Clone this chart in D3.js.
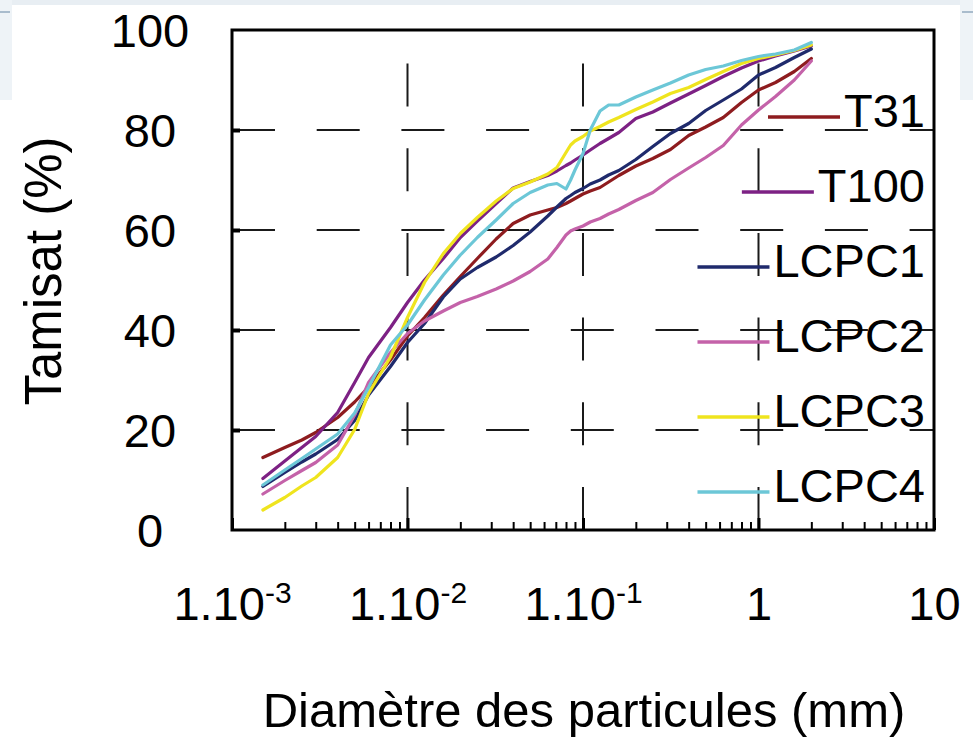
<!DOCTYPE html>
<html><head><meta charset="utf-8">
<script src="https://cdn.jsdelivr.net/npm/d3@7"></script>
<style>
html,body{margin:0;padding:0;background:#fff;}
svg{display:block;}
text{font-family:"Liberation Sans", Arial, Helvetica, sans-serif; fill:#000;}
</style>
</head><body>
<svg id="chart" width="973" height="738"></svg>
<script>
// ---------- DATA ----------
const diametres = [0.0015, 0.002, 0.0025, 0.003, 0.004, 0.005, 0.006, 0.008, 0.01, 0.0125,
  0.016, 0.02, 0.025, 0.032, 0.04, 0.05, 0.063, 0.071, 0.08, 0.085, 0.09, 0.1, 0.11, 0.125,
  0.14, 0.16, 0.2, 0.25, 0.315, 0.4, 0.5, 0.63, 0.8, 1, 1.25, 1.6, 2];

const T31   = [14.5, 16.5, 18.0, 19.5, 22.5, 25.6, 28.6, 34.0, 38.8, 42.5, 47.0, 50.7, 54.3, 58.2, 61.3, 63.0, 64.0, 64.5, 65.3, 65.8, 66.3, 67.2, 67.8, 68.5, 69.6, 70.9, 72.8, 74.3, 76.1, 78.9, 80.6, 82.5, 85.5, 88.0, 89.5, 91.7, 94.3];
const T100  = [10.3, 13.8, 16.5, 18.7, 23.5, 29.5, 34.5, 40.5, 45.5, 50.0, 54.3, 58.5, 61.8, 65.3, 68.4, 69.7, 70.9, 71.8, 72.9, 73.4, 74.0, 75.0, 76.0, 77.3, 78.3, 79.5, 82.3, 83.6, 85.4, 87.2, 88.9, 90.7, 92.4, 93.8, 94.8, 95.8, 96.8];
const LCPC1 = [8.7, 11.5, 13.6, 15.2, 18.1, 21.9, 27.0, 32.7, 37.5, 41.3, 46.6, 50.2, 52.5, 54.6, 56.9, 59.6, 62.8, 64.6, 66.3, 66.9, 67.5, 68.3, 69.2, 70.0, 71.0, 71.9, 74.1, 76.7, 79.3, 81.3, 83.9, 86.0, 88.2, 91.0, 92.5, 94.5, 96.2];
const LCPC2 = [7.2, 9.9, 11.9, 13.5, 17.0, 23.0, 29.5, 35.5, 39.3, 41.8, 43.8, 45.5, 46.7, 48.2, 49.8, 51.7, 54.2, 56.5, 59.0, 59.8, 60.2, 60.8, 61.6, 62.3, 63.2, 64.1, 65.9, 67.5, 70.1, 72.4, 74.5, 76.9, 81.0, 84.0, 86.7, 90.0, 93.8];
const LCPC3 = [4.0, 6.5, 8.8, 10.5, 14.5, 20.1, 27.3, 34.6, 42.5, 49.5, 55.3, 59.3, 62.5, 65.8, 68.3, 69.6, 71.2, 72.5, 75.5, 77.0, 77.8, 78.7, 79.8, 80.7, 81.6, 82.5, 84.1, 85.6, 87.3, 88.5, 90.1, 91.7, 93.3, 94.3, 95.0, 95.9, 97.0];
const LCPC4 = [9.0, 12.0, 14.3, 16.2, 19.2, 23.4, 28.5, 37.0, 41.0, 46.0, 51.0, 55.0, 58.5, 62.0, 65.3, 67.5, 69.0, 69.3, 68.2, 70.0, 72.0, 75.3, 80.0, 83.8, 85.0, 85.0, 86.6, 88.0, 89.4, 91.0, 92.1, 92.8, 93.9, 94.7, 95.2, 96.0, 97.5];

const seriesNames  = ["T31", "T100", "LCPC1", "LCPC2", "LCPC3", "LCPC4"];
const seriesValues = [T31, T100, LCPC1, LCPC2, LCPC3, LCPC4];
const seriesColors = ["#8e1c1f", "#7d2184", "#1f2a6c", "#c462a9", "#efe41e", "#6cc7d7"];

const yTickValues = [0, 20, 40, 60, 80, 100];
const yTickLabels = ["0", "20", "40", "60", "80", "100"];
const xTickValues = [0.001, 0.01, 0.1, 1, 10];
const xTickBases  = ["1.10", "1.10", "1.10", "1", "10"];
const xTickExps   = ["-3", "-2", "-1", "", ""];
const yTitle = "Tamisat (%)";
const xTitle = "Diamètre des particules (mm)";

// ---------- LAYOUT ----------
const svg = d3.select("#chart");
const x = d3.scaleLog().domain([1e-3, 10]).range([232, 934]);
const y = d3.scaleLinear().domain([0, 100]).range([530, 30]);
const FONT = 47;

// page decoration (light frame of the source page)
svg.append("rect").attr("x", 0).attr("y", 0).attr("width", 973).attr("height", 5).attr("fill", "#e8eef3");
svg.append("rect").attr("x", 0).attr("y", 0).attr("width", 12).attr("height", 100).attr("fill", "#eef3f7");
svg.append("rect").attr("x", 960).attr("y", 0).attr("width", 13).attr("height", 100).attr("fill", "#eef3f7");
svg.append("line").attr("x1", 0).attr("x2", 10).attr("y1", 12).attr("y2", 12).attr("stroke", "#a9bccd").attr("stroke-width", 2);
svg.append("line").attr("x1", 962).attr("x2", 973).attr("y1", 12).attr("y2", 12).attr("stroke", "#a9bccd").attr("stroke-width", 2);

// grid (dashed)
const dash = "43,41.7";
const gridG = svg.append("g");
gridG.selectAll("line.h").data(yTickValues.filter(v => v > 0 && v < 100)).join("line")
  .attr("class", "h")
  .attr("x1", x(1e-3)).attr("x2", x(10))
  .attr("y1", d => y(d)).attr("y2", d => y(d))
  .attr("stroke", "#1a1a1a").attr("stroke-width", 2).attr("stroke-dasharray", dash);
gridG.selectAll("line.v").data(xTickValues.filter(v => v > 1e-3 && v < 10)).join("line")
  .attr("class", "v")
  .attr("x1", d => x(d)).attr("x2", d => x(d))
  .attr("y1", y(0)).attr("y2", y(100))
  .attr("stroke", "#1a1a1a").attr("stroke-width", 2).attr("stroke-dasharray", dash);

// minor ticks on the bottom axis (pointing inward)
const minorTicks = x.ticks().filter(v => Math.abs(Math.log10(v) - Math.round(Math.log10(v))) > 1e-9);
const minorAxis = svg.append("g").attr("transform", `translate(0,${y(0)})`)
  .call(d3.axisTop(x).tickValues(minorTicks).tickSize(8).tickFormat(""));
minorAxis.select(".domain").remove();
minorAxis.selectAll("line").attr("stroke", "#000").attr("stroke-width", 2);

const majorAxis = svg.append("g").attr("transform", `translate(0,${y(0)})`)
  .call(d3.axisTop(x).tickValues(xTickValues).tickSize(12).tickFormat(""));
majorAxis.select(".domain").remove();
majorAxis.selectAll("line").attr("stroke", "#000").attr("stroke-width", 3);

// inward ticks on the left axis
const leftTicks = svg.append("g").attr("transform", `translate(${x(1e-3)},0)`)
  .call(d3.axisRight(y).tickValues(yTickValues.filter(v => v > 0 && v < 100)).tickSize(8).tickFormat(""));
leftTicks.select(".domain").remove();
leftTicks.selectAll("line").attr("stroke", "#000").attr("stroke-width", 4);

// data lines
const lineGen = d3.line().x((d, i) => x(diametres[i])).y(d => y(d)).curve(d3.curveLinear);
svg.append("g").selectAll("path").data(seriesValues).join("path")
  .attr("d", d => lineGen(d))
  .attr("fill", "none")
  .attr("stroke", (d, i) => seriesColors[i])
  .attr("stroke-width", 3.2)
  .attr("stroke-linejoin", "round")
  .attr("stroke-linecap", "round");

// frame
svg.append("rect")
  .attr("x", x(1e-3)).attr("y", y(100))
  .attr("width", x(10) - x(1e-3)).attr("height", y(0) - y(100))
  .attr("fill", "none").attr("stroke", "#000").attr("stroke-width", 3);

// y tick labels
const yAxisG = svg.append("g").attr("transform", "translate(150,0)")
  .call(d3.axisLeft(y).tickValues(yTickValues).tickSize(0).tickPadding(0)
    .tickFormat((d, i) => yTickLabels[i]));
yAxisG.select(".domain").remove();
yAxisG.selectAll("text")
  .attr("x", 0).attr("dy", "0.36em")
  .attr("text-anchor", "middle")
  .style("font-size", FONT + "px")
  .style("font-family", "'Liberation Sans', Arial, sans-serif")
  .attr("fill", "#000");

// x tick labels
const xAxisG = svg.append("g")
  .call(d3.axisBottom(x).tickValues(xTickValues).tickSize(0).tickFormat(""));
xAxisG.select(".domain").remove();
xAxisG.selectAll(".tick text").each(function (d, i) {
  const t = d3.select(this);
  t.text(null)
    .attr("y", 620).attr("dy", null)
    .attr("text-anchor", "middle")
    .style("font-size", FONT + "px")
    .style("font-family", "'Liberation Sans', Arial, sans-serif")
    .attr("fill", "#000");
  t.append("tspan").text(xTickBases[i]);
  if (xTickExps[i]) {
    t.append("tspan").text(xTickExps[i]).attr("dy", -17).style("font-size", "30px");
  }
});

// legend
const legend = svg.append("g");
seriesNames.forEach((name, i) => {
  const ly = 117 + i * 75;
  const txt = legend.append("text")
    .attr("x", 925).attr("y", ly + 10)
    .attr("text-anchor", "end")
    .style("font-size", FONT + "px")
    .text(name);
  const w = txt.node().getComputedTextLength();
  const start = 925 - w;
  legend.append("line")
    .attr("x1", start - 76).attr("x2", start - 4)
    .attr("y1", ly).attr("y2", ly)
    .attr("stroke", seriesColors[i]).attr("stroke-width", 3.5);
});

// axis titles
svg.append("text")
  .attr("transform", "translate(43,271) rotate(-90)")
  .attr("text-anchor", "middle").attr("dy", "0.36em")
  .style("font-size", "51px")
  .text(yTitle);
svg.append("text")
  .attr("x", 584).attr("y", 727)
  .attr("text-anchor", "middle")
  .style("font-size", "49px")
  .text(xTitle);
</script>
</body></html>
